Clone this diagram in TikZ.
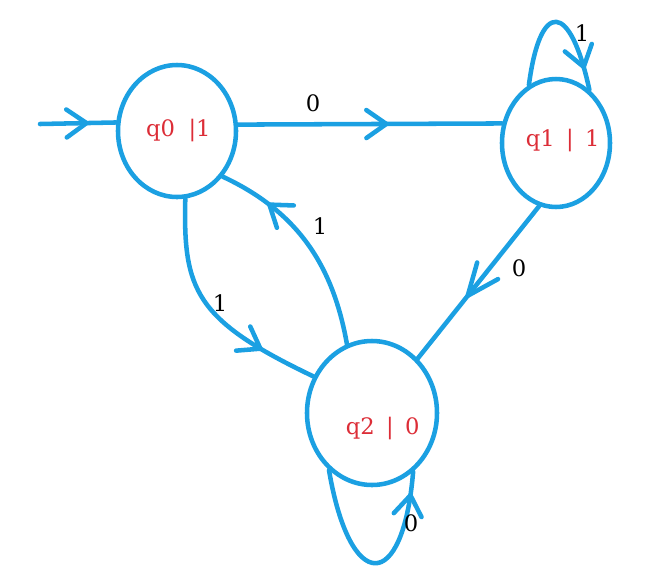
\documentclass[tikz,border=0pt]{standalone}
\usepackage{fontspec}
\setmainfont{DejaVu Serif}
\usetikzlibrary{shapes.geometric,arrows.meta,decorations.markings}
\definecolor{penblue}{RGB}{27,160,226}
\definecolor{statered}{RGB}{220,45,55}
\tikzset{
  state/.style={ellipse, draw=penblue, line width=3.4pt, inner sep=0pt},
  statetext/.style={text=statered, inner sep=0pt, font=\fontsize{17}{19}\selectfont},
  edge/.style={draw=penblue, line width=3.4pt, line cap=round, line join=round},
  midarrow/.style={postaction={decorate}, decoration={markings, mark=at position #1 with {\arrow[penblue, line width=3.4pt]{Straight Barb[length=15pt, width=21pt, round]}}}},
  longarrow/.style={postaction={decorate}, decoration={markings, mark=at position #1 with {\arrow[penblue, line width=3.4pt]{Straight Barb[length=24pt, width=20pt, round]}}}},
  lbl/.style={font=\fontsize{17}{19}\selectfont, text=black, inner sep=0pt}
}
\begin{document}
\begin{tikzpicture}[x=0.75pt, y=-0.75pt]
\useasboundingbox (0,0) rectangle (651,587);
\node (q0) [state, minimum width=88.5pt, minimum height=99pt, label={[statetext, xshift=1pt]center:q0\hspace{0.6em}|1}] at (177,131) {};
\node (q1) [state, minimum width=81pt, minimum height=96pt, label={[statetext, xshift=5pt, yshift=2pt]center:q1\hspace{0.5em}|\hspace{0.5em}1}] at (556,143) {};
\node (q2) [state, minimum width=97.5pt, minimum height=108pt, label={[statetext, xshift=8pt, yshift=-12pt]center:q2\hspace{0.5em}|\hspace{0.5em}0}] at (372,413) {};
\coordinate (start) at (40,124);
\draw[edge, midarrow=0.64] (start) -- (q0.172);
\draw[edge, midarrow=0.57] (q0.6) -- (q1.160);
\draw[edge, midarrow=0.86] (q1.115) .. controls (540,0) and (570,0) .. (q1.58);
\draw[edge, longarrow=0.6] (q1.255) -- (q2.50);
\draw[edge, midarrow=0.76] (q2.110) to[out=100, in=-25] (q0.-45);
\draw[edge, midarrow=0.76] (q0.-83) .. controls (183,290) and (195,320) .. (q2.148);
\draw[edge, midarrow=0.9] (q2.233) .. controls (350,594) and (403,594) .. (q2.-55);
\node (l01) [lbl] at (313,103) {0};
\node (l11) [lbl] at (582,33) {1};
\node (l12) [lbl] at (519,268) {0};
\node (l20) [lbl] at (320,226) {1};
\node (l02) [lbl] at (220,303) {1};
\node (l22) [lbl] at (411,523) {0};
\end{tikzpicture}
\end{document}
